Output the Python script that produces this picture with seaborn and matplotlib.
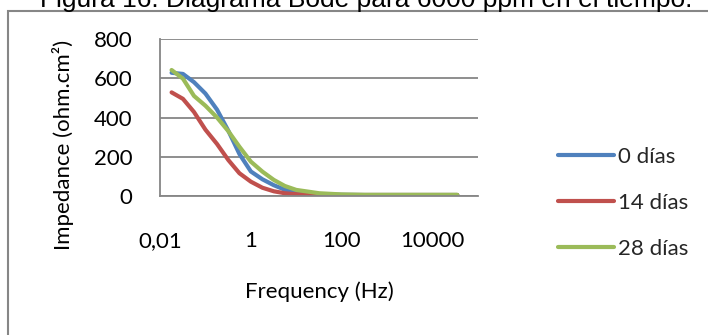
import matplotlib
matplotlib.use("Agg")
import matplotlib.pyplot as plt
from matplotlib.patches import Rectangle
from matplotlib.ticker import FixedLocator, FixedFormatter, NullLocator
import seaborn as sns
import pandas as pd

# Bode magnitude data: impedance vs frequency for three immersion times
freq_hz = [0.018, 0.032, 0.056, 0.1, 0.18, 0.32, 0.56, 1, 1.8, 3.2, 5.6, 10,
           32, 100, 320, 1000, 3200, 10000, 35000]
dias_0 = [628, 622, 580, 522, 440, 332, 214, 125, 85, 55, 32, 18,
          8, 6, 5, 5, 5, 5, 5]
dias_14 = [528, 495, 428, 338, 265, 183, 116, 73, 42, 24, 14, 9,
           6, 5, 5, 5, 5, 5, 5]
dias_28 = [642, 598, 510, 460, 400, 330, 251, 175, 124, 82, 51, 31,
           14, 8, 6, 6, 6, 6, 6]

series_names = ["0 días", "14 días", "28 días"]
series_colors = ["#4F81BD", "#C0504D", "#9BBB59"]

x_ticks = [0.01, 1, 100, 10000]
x_tick_labels = ["0,01", "1", "100", "10000"]
y_ticks = [0, 200, 400, 600, 800]

title = "Figura 16: Diagrama Bode para 6000 ppm en el tiempo."

df = pd.concat([
    pd.DataFrame({"freq": freq_hz, "imp": vals, "serie": name})
    for name, vals in zip(series_names, [dias_0, dias_14, dias_28])
], ignore_index=True)

sns.set_theme(style="white")
plt.rcParams["font.family"] = ["Lato", "DejaVu Sans"]

W, H = 708, 335
fig = plt.figure(figsize=(W / 100, H / 100), dpi=100)
ax = fig.add_axes([160 / W, 1 - 196 / H, 318 / W, 157 / H])

sns.lineplot(data=df, x="freq", y="imp", hue="serie", hue_order=series_names,
             palette=series_colors, linewidth=3, ax=ax, sort=False,
             solid_capstyle="round", solid_joinstyle="round")

ax.set_xscale("log")
ax.set_xlim(0.01, 100000)
ax.set_ylim(0, 800)
ax.xaxis.set_major_locator(FixedLocator(x_ticks))
ax.xaxis.set_major_formatter(FixedFormatter(x_tick_labels))
ax.xaxis.set_minor_locator(NullLocator())
ax.set_yticks(y_ticks)

grid_gray = "#868686"
ax.yaxis.grid(True, color=grid_gray, linewidth=1.3)
ax.xaxis.grid(False)
for side in ["top", "right"]:
    ax.spines[side].set_visible(False)
for side in ["left", "bottom"]:
    ax.spines[side].set_color(grid_gray)
    ax.spines[side].set_linewidth(1.3)

ax.tick_params(axis="x", length=0, pad=25, labelsize=16, labelcolor="black")
ax.tick_params(axis="y", length=0, pad=20, labelsize=16, labelcolor="black")

ax.set_xlabel("Frequency (Hz)", fontsize=16, color="black")
ax.xaxis.label.set_va("center")
ax.xaxis.set_label_coords(0.5, -(292 - 196) / 157)
ax.set_ylabel("Impedance (ohm.cm²)", fontsize=16, color="black")
ax.yaxis.label.set_va("center")
ax.yaxis.set_label_coords((63 - 160) / 318, (196 - 145) / 157)

sns.move_legend(ax, "center left", bbox_to_anchor=((558 - 160) / 318, (196 - 203) / 157),
                frameon=False, title=None, fontsize=16, handlelength=2.5,
                handletextpad=0.2, labelspacing=1.18, borderpad=0, borderaxespad=0)

# outer chart border (left and top edges visible)
fig.patches.append(Rectangle((8 / W, -0.2), 1.2, 1.2 - 10.5 / H, transform=fig.transFigure,
                             fill=False, edgecolor=grid_gray, linewidth=1.5))

fig.text(366 / W, 1 - 6.5 / H, title, ha="center", va="baseline", fontsize=19,
         family=["Liberation Sans", "DejaVu Sans"], color="black")

fig.savefig("out.png", dpi=100, facecolor="white")
